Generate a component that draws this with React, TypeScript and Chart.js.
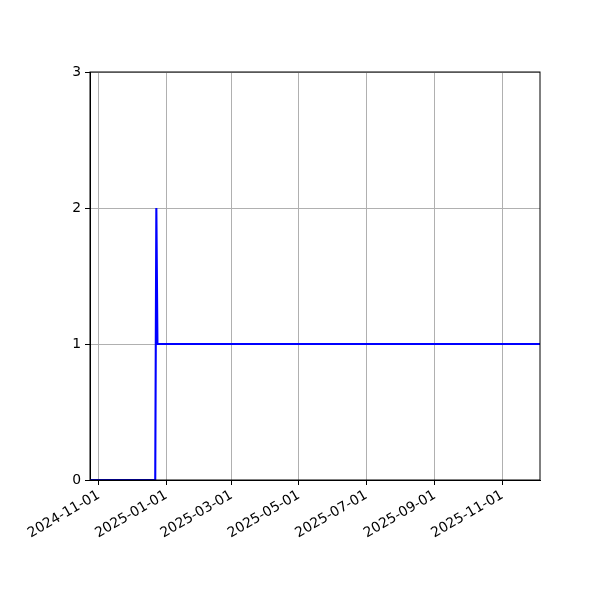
import { useEffect, useRef } from 'react';
import { Chart, registerables } from 'chart.js';

Chart.register(...registerables);

// dates (UTC, yyyy-mm-dd) and counts
const dates = ['2024-10-24', '2024-12-22', '2024-12-23', '2024-12-24', '2025-12-05'];
const counts = [0, 0, 2, 1, 1];
const tickDates = ['2024-11-01', '2025-01-01', '2025-03-01', '2025-05-01', '2025-07-01', '2025-09-01', '2025-11-01'];
const yTicks = [0, 1, 2, 3];

const toMs = (d: string) => {
  const [y, m, day] = d.split('-').map(Number);
  return Date.UTC(y, m - 1, day);
};

const fmt = (ms: number) => {
  const d = new Date(ms);
  const mm = String(d.getUTCMonth() + 1).padStart(2, '0');
  const dd = String(d.getUTCDate()).padStart(2, '0');
  return `${d.getUTCFullYear()}-${mm}-${dd}`;
};

// draws the top and right spines like matplotlib
const frame = {
  id: 'frame',
  afterDraw(chart: Chart) {
    const { ctx, chartArea: a } = chart;
    ctx.save();
    ctx.strokeStyle = '#000';
    ctx.lineWidth = 1;
    ctx.strokeRect(a.left, a.top, a.right - a.left, a.bottom - a.top);
    ctx.restore();
  },
};

function App() {
  const chartRef = useRef<HTMLCanvasElement>(null);
  const chartInstance = useRef<Chart | null>(null);

  useEffect(() => {
    document.body.style.margin = '0';
    if (!chartRef.current) return;
    const ctx = chartRef.current.getContext('2d');
    if (!ctx) return;
    if (chartInstance.current) chartInstance.current.destroy();

    const font = { family: '"DejaVu Sans", sans-serif', size: 13.9 };

    chartInstance.current = new Chart(ctx, {
      type: 'line',
      data: {
        datasets: [{
          data: dates.map((d, i) => ({ x: toMs(d), y: counts[i] })),
          borderColor: '#0000ff',
          borderWidth: 2.1,
          pointRadius: 0,
          tension: 0,
          fill: false,
        }],
      },
      options: {
        responsive: false,
        animation: false,
        layout: { padding: { left: 0, top: 72, right: 60, bottom: 0 } },
        plugins: { legend: { display: false }, tooltip: { enabled: false } },
        scales: {
          x: {
            type: 'linear',
            min: toMs(dates[0]),
            max: toMs(dates[dates.length - 1]),
            afterBuildTicks: (axis: any) => {
              axis.ticks = tickDates.map((d) => ({ value: toMs(d) }));
            },
            afterFit: (axis: any) => { axis.height = 120; },
            ticks: {
              callback: (v: any) => fmt(Number(v)),
              minRotation: 30,
              maxRotation: 30,
              autoSkip: false,
              color: '#000',
              font,
              padding: 2,
            },
            grid: { color: '#b0b0b0', lineWidth: 1, tickLength: 5, tickColor: '#000', tickWidth: 1 },
            border: { color: '#000', width: 1 },
          },
          y: {
            min: 0,
            max: 3,
            afterBuildTicks: (axis: any) => {
              axis.ticks = yTicks.map((v) => ({ value: v }));
            },
            afterFit: (axis: any) => { axis.width = 90; },
            ticks: { color: '#000', font, padding: 4 },
            grid: { color: '#b0b0b0', lineWidth: 1, tickLength: 5, tickColor: '#000', tickWidth: 1 },
            border: { color: '#000', width: 1 },
          },
        },
      },
      plugins: [frame],
    });

    return () => {
      if (chartInstance.current) {
        chartInstance.current.destroy();
        chartInstance.current = null;
      }
    };
  }, []);

  return (
    <div style={{ width: 600, height: 600, background: '#fff' }}>
      <canvas ref={chartRef} width={600} height={600}></canvas>
    </div>
  );
}

export default App;
